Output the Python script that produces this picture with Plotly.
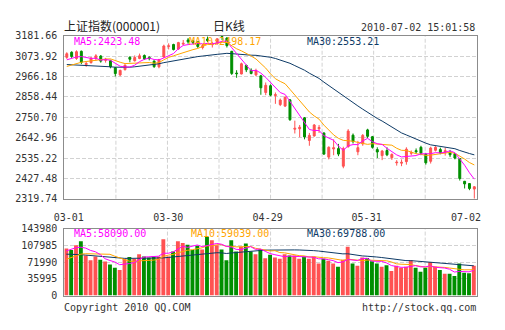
import pandas as pd
import plotly.graph_objects as go

# ---------------- data ----------------
tick_labels = ["03-01", "03-30", "04-29", "05-31", "07-02"]
tick_pos = [0.4, 20.9, 41.4, 61.8, 82.3]   # label anchor positions on the day axis

price_ticks = ["3181.66", "3073.92", "2966.18", "2858.44", "2750.70",
               "2642.96", "2535.22", "2427.48", "2319.74"]
volume_ticks = ["143980", "107985", "71990", "35995", "0"]

open_ = [3068, 3095, 3062, 3100, 3030, 3040, 3062, 3075, 3052, 3050,
         3013, 2975, 3003, 3068, 3050, 3062, 3078, 3068, 3048, 3018,
         3070, 3126, 3136, 3112, 3138, 3160, 3155, 3150, 3120, 3165,
         3135, 3140, 3178, 3170, 3100, 2985, 2980, 3025, 3000, 2975,
         2970, 2882, 2918, 2866, 2818, 2810, 2843, 2688, 2690, 2748,
         2628, 2652, 2690, 2668, 2540, 2583, 2585, 2492, 2595, 2656,
         2568, 2610, 2684, 2648, 2580, 2548, 2575, 2537, 2510, 2508,
         2516, 2560, 2574, 2592, 2556, 2518, 2576, 2580, 2566, 2565,
         2558, 2532, 2412, 2400, 2371]
high = [3095, 3100, 3105, 3104, 3045, 3070, 3085, 3080, 3065, 3055,
        3016, 3003, 3030, 3074, 3078, 3088, 3083, 3074, 3052, 3060,
        3135, 3142, 3140, 3150, 3160, 3170, 3160, 3155, 3136, 3178,
        3150, 3168, 3181.66, 3175, 3102, 3000, 3040, 3030, 3010, 3008,
        2975, 2935, 2925, 2882, 2850, 2862, 2846, 2733, 2710, 2752,
        2668, 2715, 2710, 2670, 2597, 2634, 2610, 2595, 2688, 2665,
        2626, 2662, 2690, 2652, 2592, 2578, 2592, 2560, 2524, 2528,
        2592, 2575, 2586, 2600, 2562, 2595, 2598, 2590, 2590, 2578,
        2562, 2535, 2414, 2402, 2386]
low = [3060, 3065, 3055, 3032, 3018, 3035, 3050, 3040, 3040, 3010,
       2967, 2968, 2998, 3042, 3046, 3058, 3055, 3052, 3012, 3010,
       3066, 3110, 3105, 3108, 3132, 3140, 3138, 3118, 3110, 3150,
       3120, 3135, 3160, 3120, 2975, 2960, 2978, 2990, 2978, 2968,
       2870, 2868, 2862, 2822, 2810, 2805, 2732, 2665, 2645, 2634,
       2600, 2648, 2668, 2552, 2528, 2550, 2545, 2481, 2590, 2612,
       2550, 2600, 2640, 2585, 2535, 2524, 2545, 2525, 2495, 2492,
       2500, 2550, 2558, 2550, 2500, 2506, 2570, 2555, 2548, 2540,
       2528, 2416, 2374, 2365, 2319.74]
close = [3087, 3073, 3098, 3042, 3036, 3064, 3076, 3048, 3058, 3018,
         2982, 2999, 3027, 3058, 3067, 3076, 3060, 3061, 3019, 3056,
         3128, 3129, 3109, 3146, 3143, 3150, 3147, 3126, 3130, 3156,
         3142, 3166, 3174, 3130, 2983, 2981, 3034, 3002, 2983, 2998,
         2907, 2920, 2868, 2871, 2842, 2857, 2738, 2693, 2698, 2647,
         2655, 2710, 2697, 2556, 2592, 2590, 2556, 2585, 2678, 2622,
         2590, 2655, 2650, 2592, 2567, 2572, 2552, 2554, 2514, 2513,
         2582, 2564, 2568, 2560, 2510, 2588, 2592, 2562, 2574, 2552,
         2535, 2427, 2398, 2374, 2383]
volume = [101000, 98000, 108000, 117000, 86000, 76000, 84000, 77000, 73000, 67000,
          60000, 55000, 79000, 83000, 79000, 89000, 84000, 82000, 84000, 84000,
          121000, 84000, 95000, 117000, 113000, 109000, 98000, 107000, 99000, 127000,
          119000, 108000, 99000, 76000, 119000, 95000, 105000, 112000, 95000, 89000,
          100000, 80000, 88000, 82000, 79000, 89000, 86000, 86000, 79000, 84000,
          79000, 84000, 69000, 79000, 75000, 69000, 62000, 77000, 105000, 69000,
          64000, 82000, 81000, 74000, 69000, 62000, 65000, 53000, 64000, 60000,
          62000, 76000, 60000, 51000, 60000, 72000, 62000, 55000, 47000, 47000,
          42000, 69000, 49000, 48000, 64000]

# moving-average values before the window is full
ma5_head = [3055, 3062, 3070, 3072]
ma10_head = [3020, 3028, 3036, 3042, 3046, 3050, 3054, 3057, 3059]
ma30_head = [3030, 3029, 3028, 3027, 3026, 3025, 3024, 3022, 3020, 3018,
             3016, 3015, 3015, 3016, 3018, 3021, 3024, 3027, 3030, 3034,
             3040, 3045, 3050, 3055, 3060, 3064, 3068, 3072, 3075]
vma5_head = [96000, 99000, 103000, 104000]
vma10_head = [78000, 82000, 86000, 89000, 90000, 90000, 90000, 90000, 89000]
vma30_head = [89000, 89000, 88000, 88000, 87000, 86000, 85000, 84000, 83000, 82000,
              81000, 80000, 80000, 80000, 80000, 80000, 80000, 80000, 80000, 80000,
              81000, 82000, 83000, 85000, 86000, 87000, 88000, 89000, 90000]

ma_labels = ["MA5:2423.48", "MA10:2498.17", "MA30:2553.21"]
vma_labels = ["MA5:58090.00", "MA10:59039.00", "MA30:69788.00"]

# ---------------- helpers ----------------
def moving(vals, n, head):
    r = pd.Series(vals, dtype=float).rolling(n).mean().tolist()
    return list(head) + r[n - 1:]

n = len(close)
idx = list(range(n))
RED = "#ff5252"
GREEN = "#008f00"
C5, C10, C30 = "#ff00ff", "#ffa500", "#0d3a66"
MONO = "DejaVu Sans Mono"
TXT = "#333333"
GRID = "#d2d2d2"
FRAME = "#8c8c8c"

up = [c >= o for o, c in zip(open_, close)]
colors = [RED if u else GREEN for u in up]

fig = go.Figure()

# wicks
for flag, col in ((True, RED), (False, GREEN)):
    wx, wy = [], []
    for i in idx:
        if up[i] == flag:
            wx += [i, i, None]
            wy += [low[i], high[i], None]
    fig.add_trace(go.Scatter(x=wx, y=wy, mode="lines", line=dict(color=col, width=1),
                             hoverinfo="skip", xaxis="x", yaxis="y"))

# bodies
fig.add_trace(go.Bar(x=idx, y=[abs(c - o) for o, c in zip(open_, close)],
                     base=[min(o, c) for o, c in zip(open_, close)],
                     width=0.4, marker=dict(color=colors, line=dict(color=colors, width=1)),
                     xaxis="x", yaxis="y"))

# price moving averages
for vals, col in ((moving(close, 30, ma30_head), C30),
                  (moving(close, 10, ma10_head), C10),
                  (moving(close, 5, ma5_head), C5)):
    fig.add_trace(go.Scatter(x=idx, y=vals, mode="lines", line=dict(color=col, width=1),
                             xaxis="x", yaxis="y"))

# volume
fig.add_trace(go.Bar(x=idx, y=volume, width=0.8, marker=dict(color=colors, line=dict(width=0)),
                     xaxis="x2", yaxis="y2"))
for vals, col in ((moving(volume, 30, vma30_head), C30),
                  (moving(volume, 10, vma10_head), C10),
                  (moving(volume, 5, vma5_head), C5)):
    fig.add_trace(go.Scatter(x=idx, y=vals, mode="lines", line=dict(color=col, width=1),
                             xaxis="x2", yaxis="y2"))

W, H = 505, 330
xdom = [55 / W, 480 / W]
axis_common = dict(showline=True, mirror=True, linecolor=FRAME, linewidth=1,
                   zeroline=False, fixedrange=True)

fig.update_layout(
    width=W, height=H, margin=dict(l=0, r=0, t=0, b=0),
    paper_bgcolor="white", plot_bgcolor="white", showlegend=False,
    barmode="overlay",
    xaxis=dict(domain=xdom, range=[-0.5, n - 0.5], anchor="y",
               tickmode="array", tickvals=tick_pos, ticktext=tick_labels,
               showgrid=False, ticks="", ticklabelstandoff=9,
               tickfont=dict(family=MONO, size=10, color=TXT), **axis_common),
    yaxis=dict(domain=[1 - 200 / H, 1 - 31 / H], range=[2319.74, 3181.66], anchor="x",
               tickmode="array", tickvals=[float(t) for t in price_ticks], ticktext=price_ticks,
               showgrid=True, gridcolor=GRID, griddash="4px,2px", gridwidth=1,
               ticks="", ticklabelstandoff=4,
               tickfont=dict(family=MONO, size=10, color=TXT), **axis_common),
    xaxis2=dict(domain=xdom, range=[-0.4, n - 0.4], anchor="y2", showticklabels=False,
                showgrid=False, ticks="", **axis_common),
    yaxis2=dict(domain=[1 - 300.5 / H, 1 - 231 / H], range=[0, 143980], anchor="x2",
                tickmode="array", tickvals=[float(t) for t in volume_ticks], ticktext=volume_ticks,
                showgrid=True, gridcolor=GRID, griddash="4px,2px", gridwidth=1,
                ticks="", ticklabelstandoff=4,
                tickfont=dict(family=MONO, size=10, color=TXT), **axis_common),
)

# vertical dashed grid lines (8 equal divisions)
for k in range(1, 8):
    for xr, yr in (("x domain", "y domain"), ("x2 domain", "y2 domain")):
        fig.add_shape(type="line", xref=xr, yref=yr, x0=k / 8, x1=k / 8, y0=0, y1=1,
                      line=dict(color=GRID, width=1, dash="4px,2px"), layer="below")

def ann(text, xpx, ypx, anchor="left", color=TXT, size=10, family=MONO):
    fig.add_annotation(text=text, x=xpx / W, y=1 - ypx / H, xref="paper", yref="paper",
                       xanchor=anchor, yanchor="middle", showarrow=False,
                       font=dict(family=family, size=size, color=color), borderpad=0)

CJK = "Noto Sans CJK SC"
ann("上证指数(000001)", 54, 20.5, "left", "#222222", 12, CJK)
ann("日K线", 225, 20.5, "center", "#222222", 12, CJK)
ann("2010-07-02 15:01:58", 479, 22, "right")

for lab, xpx, col in zip(ma_labels, (64, 182, 304), (C5, C10, C30)):
    ann(lab, xpx, 36.5, "left", col)
for lab, xpx, col in zip(vma_labels, (64, 184, 304), (C5, C10, C30)):
    ann(lab, xpx, 236.5, "left", col)

ann("Copyright 2010 QQ.COM", 54, 312.5, "left")
ann("http://stock.qq.com", 480, 312.5, "right")

fig.write_html("out.html")
